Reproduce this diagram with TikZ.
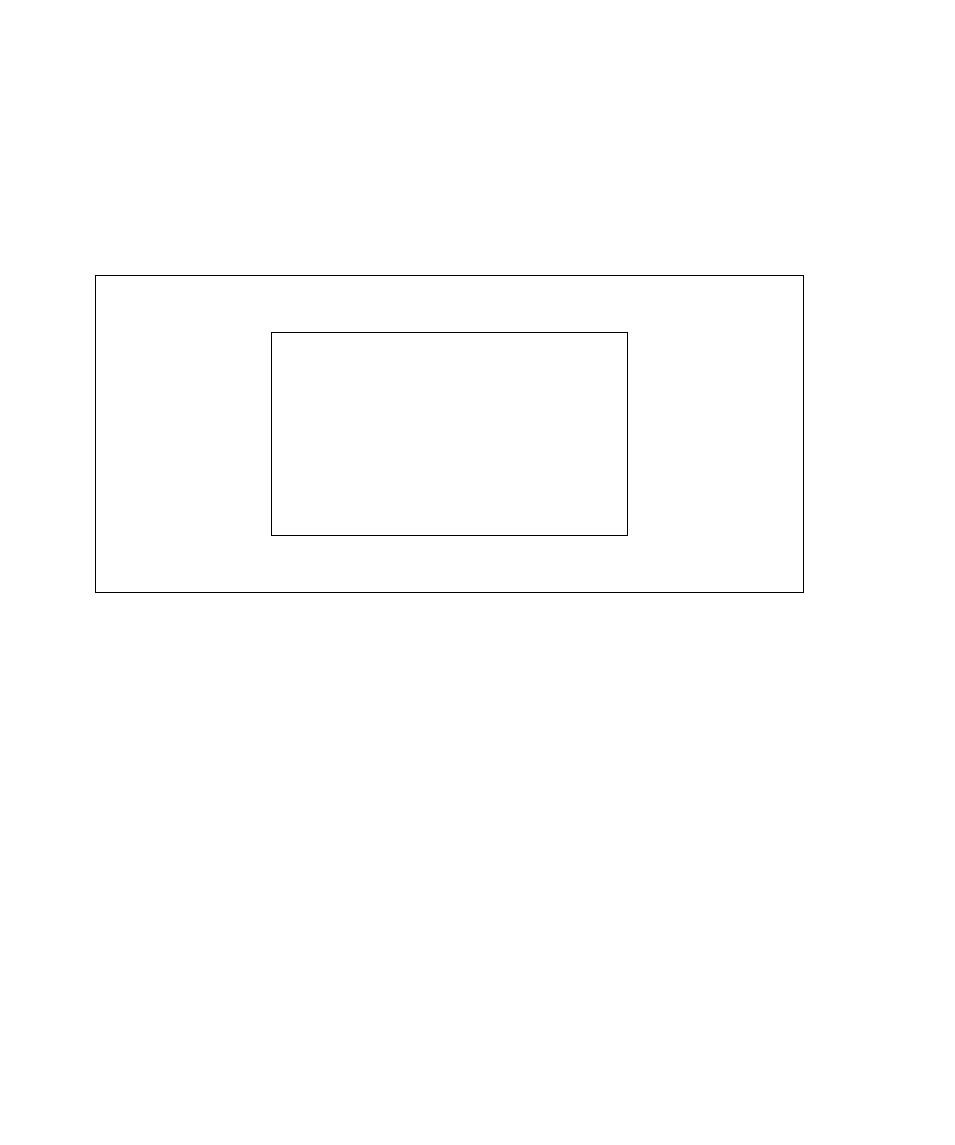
\documentclass[tikz,border=0pt]{standalone}
\begin{document}
\begin{tikzpicture}[x=1pt,y=-1pt,
  frame/.style={draw=black,line width=0.9pt,fill=none}]
\useasboundingbox[fill=white] (0,0) rectangle (955,1145);
\draw[frame] (95.5,275.5) rectangle (803.5,592.5);
\draw[frame] (271.5,332.5) rectangle (627.5,535.5);
\end{tikzpicture}
\end{document}
